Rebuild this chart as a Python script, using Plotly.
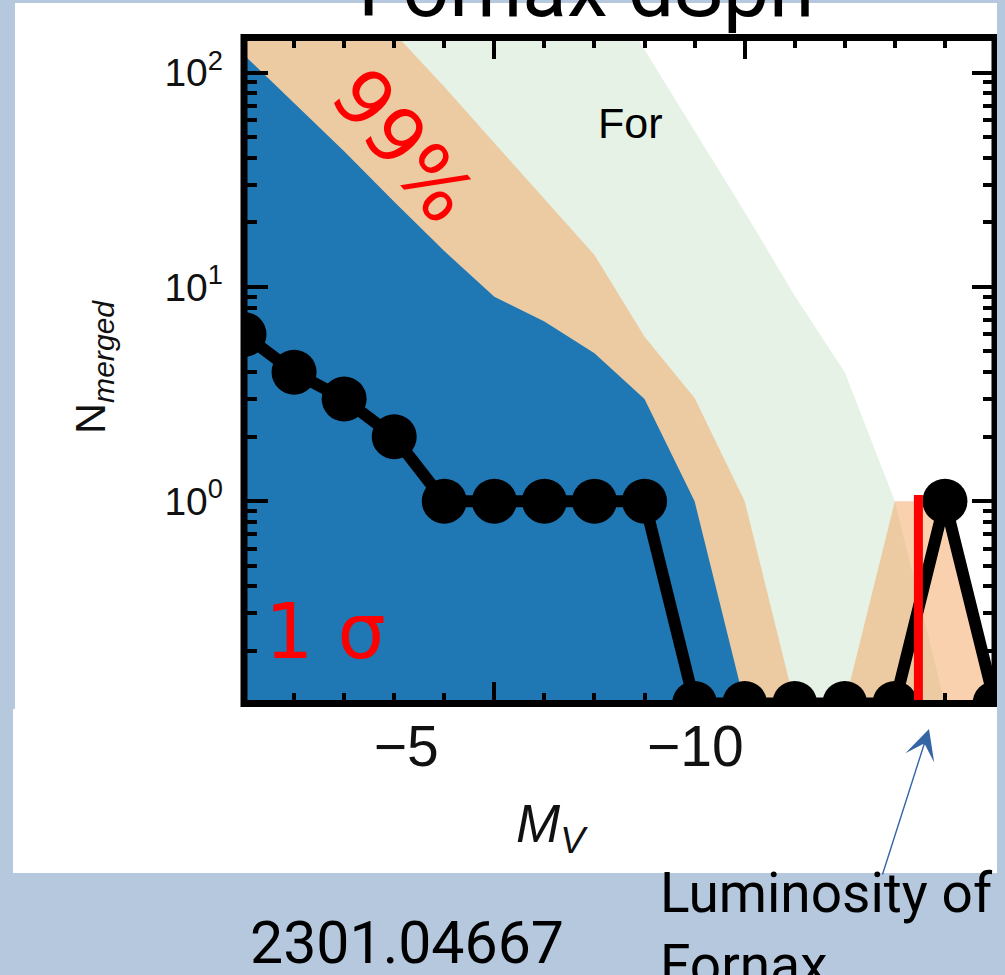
import numpy as np
import plotly.graph_objects as go

# ---------------------------------------------------------------------------
# Data: merged-cluster counts per absolute-magnitude bin for Fornax
# ---------------------------------------------------------------------------
mv_bins = [0, -1, -2, -3, -4, -5, -6, -7, -8, -9, -10, -11, -12, -13, -14, -15]
n_merged = [6, 4, 3, 2, 1, 1, 1, 1, 1, 0, 0, 0, 0, 0, 1, 0]

# upper envelopes of the simulated distributions (lower edge is zero)
band_1sigma = [121, 72, 43, 25, 14.7, 9.0, 6.9, 4.9, 3.0, 1.0, 0, 0, 0, 0, 0, 0]
band_99 = [900, 500, 280, 153, 86, 47, 25.8, 14.1, 5.85, 3.03, 1.0, 0, 0, 1.0, 1.0, 0]
band_max = [9000, 6000, 4000, 2500, 1600, 1000, 700, 305, 128, 53.5, 22.4, 9.1, 4.0, 1.0, 0, 0]

# luminosity of Fornax itself
mv_fornax = -13.47
mv_fornax_top = 1.07

# axis settings
x_range = [0, -15]
y_log_range = [-0.944, 2.164]
y_floor = 10 ** y_log_range[0]          # zero counts sit on the bottom of the log axis
y_tickvals = [1, 10, 100]
y_ticktext = ["10<sup>0</sup>", "10<sup>1</sup>", "10<sup>2</sup>"]
y_minor = [m * 10 ** e for e in (-1, 0, 1, 2) for m in range(2, 10)]
x2_tickvals = [-5, -10]
x2_ticktext = ["\u22125", "\u221210"]

W, H = 1005, 975
SLIDE_BG = "#b5c8dd"
BLUE = "#1f77b4"
TAN = "rgba(244,164,96,0.5)"     # sandybrown, half transparent
GREEN = "rgba(0,128,0,0.1)"      # green, faint


def px(x):
    return x / W


def py(y):
    return 1 - y / H


def on_log(vals):
    v = np.asarray(vals, dtype=float)
    return np.where(v > 0, v, y_floor)


def band_polygon(upper):
    xs = list(mv_bins) + list(mv_bins[::-1])
    ys = list(on_log(upper)) + [y_floor * 0.5] * len(mv_bins)
    return xs, ys


fig = go.Figure()

for upper, color in ((band_max, GREEN), (band_99, TAN), (band_1sigma, BLUE)):
    bx, by = band_polygon(upper)
    fig.add_trace(go.Scatter(x=bx, y=by, mode="lines", fill="toself",
                             fillcolor=color, line=dict(width=0, color=color),
                             hoverinfo="skip", showlegend=False))

fig.add_trace(go.Scatter(x=mv_bins, y=on_log(n_merged), mode="lines+markers",
                         line=dict(color="black", width=12),
                         marker=dict(color="black", size=45),
                         showlegend=False))

fig.add_trace(go.Scatter(x=[mv_fornax, mv_fornax], y=[mv_fornax_top, y_floor],
                         mode="lines", line=dict(color="#ff0000", width=9),
                         showlegend=False))

# invisible carrier so the lower magnitude scale gets drawn
fig.add_trace(go.Scatter(x=x2_tickvals, y=[0.5, 0.5], xaxis="x2", yaxis="y2",
                         mode="markers", marker=dict(opacity=0),
                         hoverinfo="skip", showlegend=False))

# plot box
plot_l, plot_r, plot_t, plot_b = 244, 995, 37.5, 703.5

fig.update_layout(
    width=W, height=H, autosize=False,
    margin=dict(l=0, r=0, t=0, b=0, pad=0),
    paper_bgcolor=SLIDE_BG, plot_bgcolor="rgba(0,0,0,0)",
    showlegend=False,
    xaxis=dict(domain=[px(plot_l), px(plot_r)], range=x_range,
               showgrid=False, zeroline=False, showline=False,
               ticks="inside", tick0=0, dtick=5, ticklen=21.5, tickwidth=3.5,
               tickcolor="black", mirror="ticks", showticklabels=False,
               minor=dict(ticks="inside", dtick=1, ticklen=10.5, tickwidth=3.5,
                          tickcolor="black", showgrid=False)),
    yaxis=dict(domain=[py(plot_b), py(plot_t)], type="log", range=y_log_range,
               showgrid=False, zeroline=False, showline=False,
               ticks="inside", tickvals=y_tickvals, ticktext=y_ticktext,
               ticklen=23.5, tickwidth=3.5, tickcolor="black", mirror="ticks",
               tickfont=dict(family="Liberation Sans", size=39, color="#111"),
               ticklabelstandoff=20,
               minor=dict(ticks="inside", tickvals=y_minor, ticklen=12.5,
                          tickwidth=3.5, tickcolor="black", showgrid=False)),
    xaxis2=dict(domain=[px(117), px(984.5)], range=x_range, anchor="free",
                position=py(708), side="bottom",
                showgrid=False, zeroline=False, showline=False, ticks="",
                tickvals=x2_tickvals, ticktext=x2_ticktext,
                tickfont=dict(family="Liberation Sans", size=57, color="#111")),
    yaxis2=dict(domain=[py(873), py(712)], range=[0, 1], visible=False,
                anchor="x2", fixedrange=True),
)

fig.add_shape(type="rect", xref="paper", yref="paper", layer="below",
              x0=px(15), x1=px(997), y0=py(709), y1=py(3),
              fillcolor="white", line=dict(width=0))
fig.add_shape(type="rect", xref="paper", yref="paper", layer="below",
              x0=px(13), x1=px(997), y0=py(873), y1=py(709),
              fillcolor="white", line=dict(width=0))
fig.add_shape(type="rect", xref="x domain", yref="y domain", layer="above",
              x0=0, x1=1, y0=0, y1=1, line=dict(color="black", width=7))
fig.add_shape(type="rect", xref="paper", yref="paper", layer="above",
              x0=px(997), x1=1, y0=py(709), y1=1,
              fillcolor=SLIDE_BG, line=dict(width=0))

annotations = [
    dict(text="Fornax dSph", x=px(586), y=py(-12), xanchor="center", yanchor="middle",
         font=dict(family="Roboto", size=82, color="black")),
    dict(text="For", x=px(630), y=py(123), xanchor="center", yanchor="middle",
         font=dict(family="Liberation Sans", size=43, color="black")),
    dict(text="99%", x=px(403), y=py(145), xanchor="center", yanchor="middle",
         textangle=50, font=dict(family="DejaVu Sans", size=77, color="#ff0000")),
    dict(text="1 \u03c3", x=px(325), y=py(631), xanchor="center", yanchor="middle",
         font=dict(family="DejaVu Sans", size=76, color="#ff0000")),
    dict(text="N<sub><i>merged</i></sub>", x=px(93), y=py(367), xanchor="center",
         yanchor="middle", textangle=-90,
         font=dict(family="Liberation Sans", size=43, color="#111")),
    dict(text="<i>M</i><sub><i>V</i></sub>", x=px(552), y=py(827), xanchor="center",
         yanchor="middle", font=dict(family="Liberation Sans", size=53, color="#111")),
    dict(text="2301.04667", x=px(407), y=py(942), xanchor="center", yanchor="middle",
         font=dict(family="Roboto", size=59, color="black")),
    dict(text="Luminosity of<br>Fornax", x=px(658), y=py(859), xanchor="left",
         yanchor="top", align="left",
         font=dict(family="Roboto", size=55, color="black")),
    dict(text="", x=px(929), y=py(729), showarrow=True, arrowhead=3,
         arrowsize=3.6, arrowwidth=1.4, arrowcolor="#3465a4",
         ax=-47, ay=147),
]
for a in annotations:
    a.setdefault("xref", "paper")
    a.setdefault("yref", "paper")
    a.setdefault("showarrow", False)
    fig.add_annotation(**a)

fig.write_html("out.html")
